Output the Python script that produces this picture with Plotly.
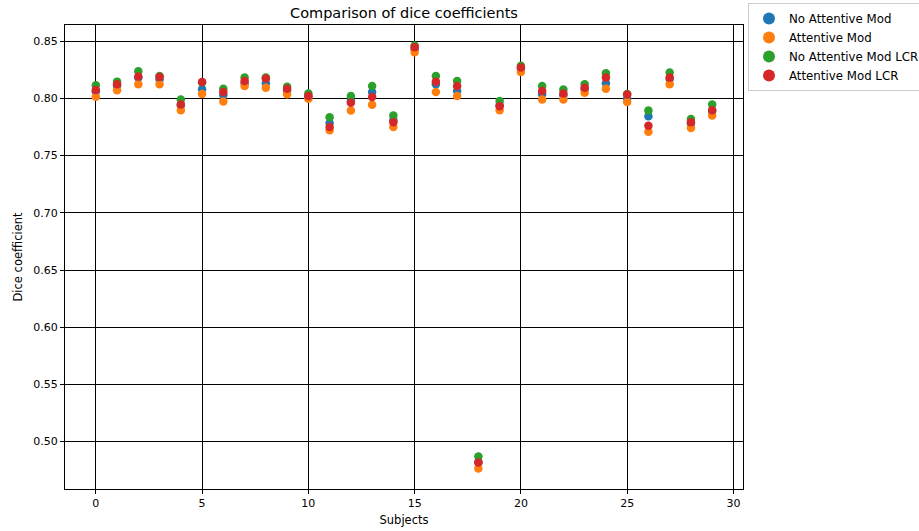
import plotly.graph_objects as go

subjects = list(range(30))
no_att = [0.806, 0.811, 0.818, 0.8168, 0.794, 0.808, 0.803, 0.813, 0.8132, 0.807,
          0.802, 0.7786, 0.7977, 0.8056, 0.781, 0.843, 0.8124, 0.8065, 0.482, 0.794,
          0.826, 0.8036, 0.8027, 0.808, 0.8132, 0.800, 0.7844, 0.817, 0.778, 0.789]
att = [0.8015, 0.8071, 0.8124, 0.8124, 0.7897, 0.8038, 0.7974, 0.8109, 0.8094, 0.8036,
       0.7997, 0.7721, 0.7894, 0.7944, 0.775, 0.8403, 0.8056, 0.8021, 0.4766, 0.7897,
       0.8232, 0.7991, 0.7991, 0.805, 0.8085, 0.7968, 0.7709, 0.8124, 0.7741, 0.785]
no_att_lcr = [0.8115, 0.8147, 0.8238, 0.8197, 0.7991, 0.8142, 0.8085, 0.8182, 0.8182, 0.8103,
              0.8044, 0.7836, 0.8021, 0.8109, 0.785, 0.8462, 0.8197, 0.8153, 0.4871, 0.7977,
              0.8285, 0.8109, 0.8079, 0.8124, 0.822, 0.8038, 0.7894, 0.8226, 0.7821, 0.7947]
att_lcr = [0.8074, 0.8124, 0.8191, 0.8188, 0.7947, 0.8144, 0.8056, 0.8153, 0.8174, 0.8085,
           0.8021, 0.775, 0.7962, 0.8012, 0.7791, 0.8447, 0.8147, 0.8109, 0.4818, 0.7932,
           0.827, 0.8065, 0.8044, 0.8094, 0.8182, 0.8035, 0.7762, 0.8182, 0.7791, 0.7897]

series = [
    ("No Attentive Mod", no_att, "#1f77b4"),
    ("Attentive Mod", att, "#ff7f0e"),
    ("No Attentive Mod LCR", no_att_lcr, "#2ca02c"),
    ("Attentive Mod LCR", att_lcr, "#d62728"),
]

W, H = 919, 531
L, R, T, B = 65, 743, 25, 489

fig = go.Figure()
for name, vals, col in series:
    fig.add_trace(go.Scatter(x=subjects, y=vals, mode="markers", name=name,
                             marker=dict(color=col, size=8.5, line=dict(width=0))))

font = "DejaVu Sans, sans-serif"
axis_common = dict(showgrid=True, gridcolor="black", gridwidth=1, zeroline=False,
                   showline=True, linecolor="black", linewidth=1, mirror=True,
                   ticks="outside", ticklen=4, tickcolor="black", automargin=False,
                   tickfont=dict(family=font, size=11, color="black"))
fig.update_layout(
    width=W, height=H,
    margin=dict(l=0, r=0, t=0, b=0, autoexpand=False),
    paper_bgcolor="white", plot_bgcolor="white",
    title=dict(text="Comparison of dice coefficients", x=(L + R) / 2 / W, xanchor="center",
               y=1 - 13 / H, yanchor="middle", font=dict(family=font, size=14.5, color="black")),
    xaxis=dict(domain=[L / W, R / W], range=[-1.45, 30.45], tickvals=[0, 5, 10, 15, 20, 25, 30],
               title=dict(text="Subjects", font=dict(family=font, size=11.5, color="black"), standoff=6),
               **axis_common),
    yaxis=dict(domain=[1 - B / H, 1 - T / H], range=[0.4586, 0.8642],
               tickvals=[0.50, 0.55, 0.60, 0.65, 0.70, 0.75, 0.80, 0.85],
               tickformat=".2f",
               title=dict(text="Dice coefficient", font=dict(family=font, size=11.5, color="black"), standoff=8),
               **axis_common),
    legend=dict(x=748 / W, y=1 - 3 / H, xanchor="left", yanchor="top",
                bgcolor="white", bordercolor="#cccccc", borderwidth=1,
                font=dict(family=font, size=11.8, color="black"),
                itemsizing="constant", tracegroupgap=0),
)
fig.write_html("out.html")
